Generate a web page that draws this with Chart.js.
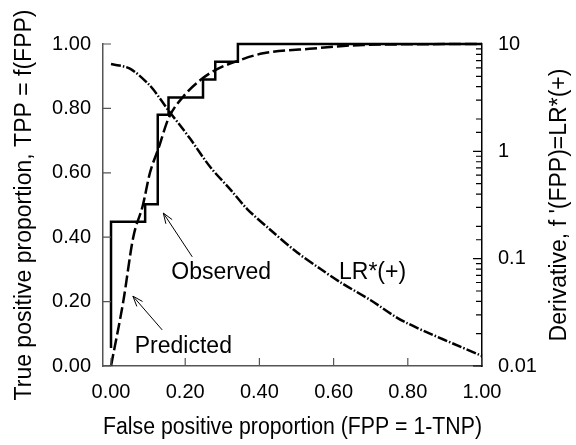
<!DOCTYPE html>
<html>
<head>
<meta charset="utf-8">
<script src="https://cdn.jsdelivr.net/npm/chart.js@4.4.1/dist/chart.umd.min.js"></script>
<style>
  html, body { margin: 0; padding: 0; background: #fff; }
  #wrap { width: 576px; height: 445px; }
</style>
</head>
<body>
<div id="wrap"><canvas id="roc" width="576" height="445"></canvas></div>
<script>
// tick values
const fppTicks = [0, 0.2, 0.4, 0.6, 0.8, 1.0];
const tppTicks = [0, 0.2, 0.4, 0.6, 0.8, 1.0];
const lrMajor = [0.01, 0.1, 1, 10];

// observed ROC (empirical steps)
const obsFpp = [0, 0, 0.092, 0.126, 0.155, 0.248, 0.281, 0.342, 1.0];
const obsTpp = [0.056, 0.448, 0.502, 0.78, 0.834, 0.89, 0.945, 1.0, 1.0];

// predicted (fitted) ROC
const predFpp = [0, 0.033, 0.06, 0.086, 0.105, 0.128, 0.155, 0.195, 0.241, 0.281, 0.34, 0.41, 0.546, 0.68, 1.0];
const predTpp = [0, 0.2, 0.4, 0.5, 0.6, 0.676, 0.769, 0.837, 0.888, 0.919, 0.947, 0.971, 0.986, 0.997, 1.0];

// derivative LR*(+) on the log axis
const lrFpp = [0, 0.051, 0.105, 0.132, 0.159, 0.186, 0.214, 0.268, 0.322, 0.367, 0.43, 0.502, 0.565, 0.619, 0.7, 0.789, 1.0];
const lrVal = [6.5, 5.9, 4.1, 3.1, 2.3, 1.75, 1.3, 0.71, 0.44, 0.29, 0.185, 0.114, 0.08, 0.06, 0.041, 0.026, 0.0124];

// text labels with arrows (data units)
const notes = [
    { text: 'Observed', x: 0.297, y: 0.289, from: [0.219, 0.339], to: [0.141, 0.475] },
    { text: 'Predicted', x: 0.195, y: 0.059, from: [0.138, 0.112], to: [0.059, 0.217] },
    { text: 'LR*(+)', x: 0.705, y: 0.289 }
];

const FONT = 'Liberation Sans, Arial, Helvetica, sans-serif';
const axisGray = '#555';

function pts(xs, ys) {
    return xs.map((x, i) => ({ x: x, y: ys[i] }));
}

// inward ticks, right title and annotations
const extras = {
    id: 'extras',
    afterDraw(chart) {
        const ctx = chart.ctx;
        const x = chart.scales.x, y = chart.scales.y, y2 = chart.scales.y2;
        ctx.save();
        ctx.lineWidth = 1.2;

        ctx.strokeStyle = axisGray;
        ctx.beginPath();
        tppTicks.forEach(v => {
            const py = y.getPixelForValue(v);
            ctx.moveTo(y.right, py); ctx.lineTo(y.right + 8, py);
        });
        fppTicks.forEach(v => {
            const px = x.getPixelForValue(v);
            ctx.moveTo(px, x.top); ctx.lineTo(px, x.top - 8);
        });
        ctx.stroke();

        ctx.strokeStyle = '#000';
        ctx.beginPath();
        y2.ticks.forEach(t => {
            const py = y2.getPixelForValue(t.value);
            const len = lrMajor.includes(t.value) ? 9 : 6;
            ctx.moveTo(y2.left, py); ctx.lineTo(y2.left - len, py);
        });
        ctx.stroke();

        // right axis title, reading bottom to top
        ctx.fillStyle = '#000';
        ctx.font = '23px ' + FONT;
        ctx.textAlign = 'center';
        ctx.textBaseline = 'middle';
        ctx.translate(560, (chart.chartArea.top + chart.chartArea.bottom) / 2);
        ctx.rotate(-Math.PI / 2);
        ctx.fillText("Derivative, f '(FPP)=LR*(+)", 0, 0);
        ctx.setTransform(1, 0, 0, 1, 0, 0);

        // annotations
        notes.forEach(n => {
            ctx.fillText(n.text, x.getPixelForValue(n.x), y.getPixelForValue(n.y));
            if (!n.from) return;
            const x1 = x.getPixelForValue(n.from[0]), y1 = y.getPixelForValue(n.from[1]);
            const x2 = x.getPixelForValue(n.to[0]), y2p = y.getPixelForValue(n.to[1]);
            const a = Math.atan2(y2p - y1, x2 - x1);
            ctx.lineWidth = 1;
            ctx.beginPath();
            ctx.moveTo(x1, y1); ctx.lineTo(x2, y2p);
            ctx.moveTo(x2 - 11 * Math.cos(a - 0.35), y2p - 11 * Math.sin(a - 0.35));
            ctx.lineTo(x2, y2p);
            ctx.lineTo(x2 - 11 * Math.cos(a + 0.35), y2p - 11 * Math.sin(a + 0.35));
            ctx.stroke();
        });
        ctx.restore();
    }
};

new Chart(document.getElementById('roc'), {
    type: 'line',
    data: {
        datasets: [
            {
                label: 'Observed',
                data: pts(obsFpp, obsTpp),
                yAxisID: 'y',
                stepped: 'before', // horizontal first, then up
                borderColor: '#000',
                borderWidth: 2.5,
                pointRadius: 0,
                clip: false
            },
            {
                label: 'Predicted',
                data: pts(predFpp, predTpp),
                yAxisID: 'y',
                borderColor: '#000',
                borderWidth: 2.5,
                borderDash: [12, 4],
                cubicInterpolationMode: 'monotone',
                pointRadius: 0,
                clip: false
            },
            {
                label: 'LR*(+)',
                data: pts(lrFpp, lrVal),
                yAxisID: 'y2',
                borderColor: '#000',
                borderWidth: 2.5,
                borderDash: [10, 2, 1.5, 2],
                tension: 0.3,
                pointRadius: 0,
                clip: false
            }
        ]
    },
    options: {
        responsive: false,
        animation: false,
        layout: { padding: { top: 44, left: 0, right: 0, bottom: 0 } },
        plugins: {
            legend: { display: false },
            tooltip: { enabled: false }
        },
        scales: {
            x: {
                type: 'linear',
                min: -0.0216,
                max: 1.0,
                afterBuildTicks: s => { s.ticks = fppTicks.map(v => ({ value: v })); },
                afterFit: s => { s.height = 79; },
                grid: { display: false, drawTicks: false },
                border: { display: true, color: axisGray, width: 1.5 },
                ticks: {
                    padding: 14,
                    color: '#000',
                    font: { family: FONT, size: 20 },
                    callback: v => v.toFixed(2)
                },
                title: {
                    display: true,
                    text: 'False positive proportion (FPP = 1-TNP)',
                    color: '#000',
                    font: { family: FONT, size: 23 },
                    padding: { top: 0, bottom: 4 }
                }
            },
            y: {
                position: 'left',
                min: 0,
                max: 1.0,
                afterBuildTicks: s => { s.ticks = tppTicks.map(v => ({ value: v })); },
                afterFit: s => { s.width = 103; },
                grid: { display: false, drawTicks: false },
                border: { display: true, color: axisGray, width: 1.5 },
                ticks: {
                    padding: 12,
                    color: '#000',
                    font: { family: FONT, size: 20 },
                    callback: v => v.toFixed(2)
                },
                title: {
                    display: true,
                    text: 'True positive proportion, TPP = f(FPP)',
                    color: '#000',
                    font: { family: FONT, size: 23 },
                    padding: { top: 11, bottom: 0 }
                }
            },
            y2: {
                type: 'logarithmic',
                position: 'right',
                min: 0.01,
                max: 10,
                afterFit: s => { s.width = 94; },
                grid: { display: false, drawTicks: false },
                border: { display: true, color: '#000', width: 1.5 },
                ticks: {
                    autoSkip: false,
                    padding: 16,
                    color: '#000',
                    font: { family: FONT, size: 20 },
                    callback: v => lrMajor.includes(v) ? String(v) : ''
                }
            }
        }
    },
    plugins: [extras]
});
</script>
</body>
</html>
